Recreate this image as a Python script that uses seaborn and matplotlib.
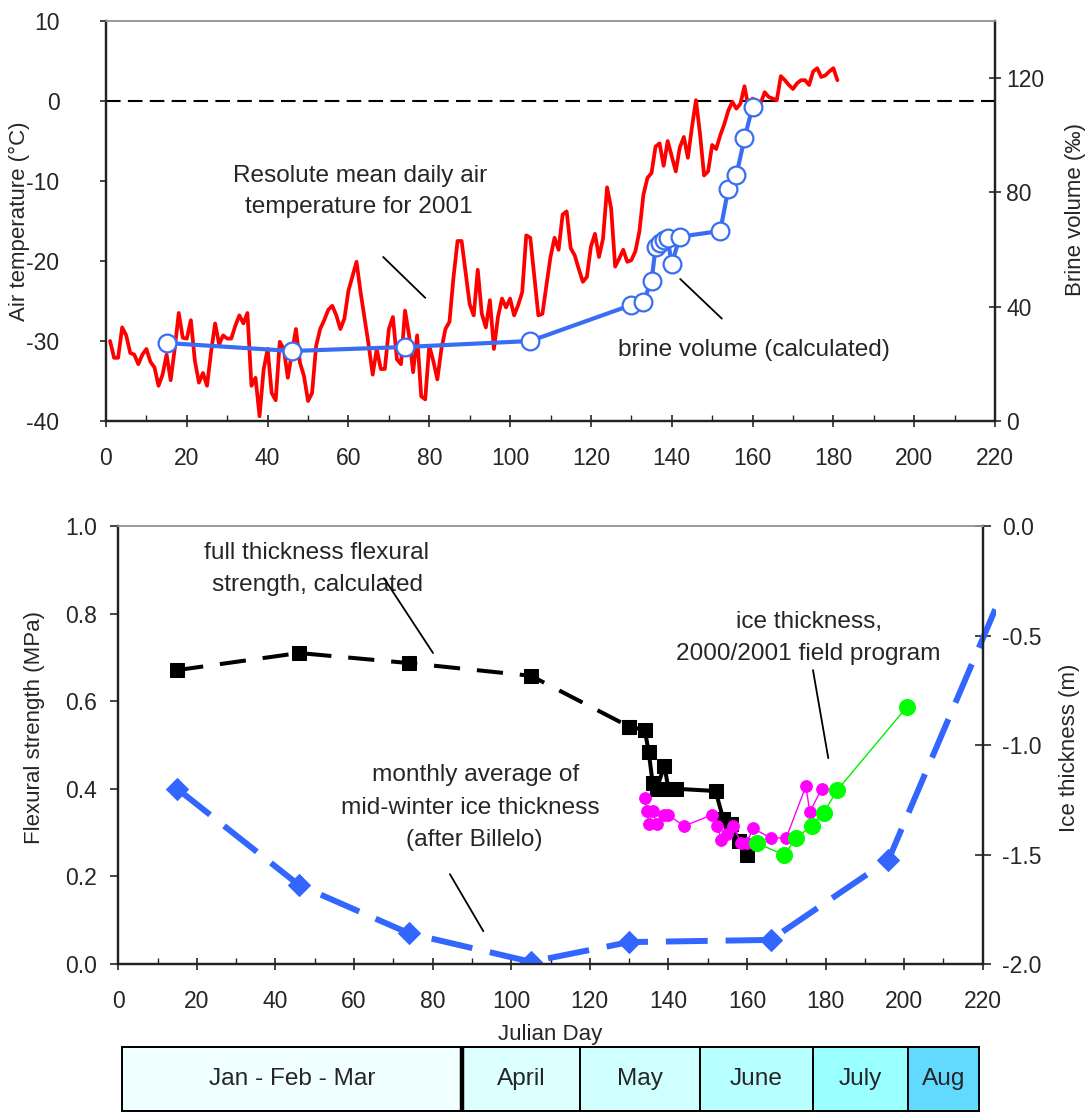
import matplotlib
matplotlib.use("Agg")
import matplotlib.pyplot as plt
import seaborn as sns
import numpy as np
import pandas as pd
from matplotlib.patches import Rectangle
from matplotlib.ticker import MultipleLocator, FormatStrFormatter

# ---------------- data ----------------
temp_day = list(range(1, 182))
temp_c = [
    -30.0, -32.1, -32.1, -28.3, -29.3, -31.5, -31.7, -32.9, -31.7, -31.0,
    -32.6, -33.3, -35.6, -34.2, -31.7, -34.9, -31.0, -26.5, -29.6, -29.7,
    -27.4, -32.5, -35.2, -34.0, -35.6, -31.4, -27.8, -30.4, -29.3, -29.7,
    -29.7, -28.1, -26.8, -27.8, -26.5, -35.6, -34.6, -39.4, -33.6, -31.0,
    -36.5, -37.4, -30.1, -31.0, -34.6, -31.5, -28.5, -32.7, -34.4, -37.5,
    -36.5, -30.6, -28.5, -27.4, -26.1, -25.6, -26.8, -28.5, -27.2, -23.7,
    -21.9, -20.1, -23.9, -27.2, -30.5, -34.2, -31.0, -33.5, -33.5, -28.5,
    -27.0, -32.3, -32.9, -26.2, -29.3, -33.9, -29.3, -36.9, -37.3, -30.6,
    -32.5, -34.8, -31.0, -28.5, -27.6, -22.0, -17.5, -17.5, -21.4, -25.4,
    -26.8, -21.1, -26.6, -28.3, -24.9, -31.0, -27.0, -24.7, -25.8, -24.7,
    -26.8, -25.5, -23.9, -16.8, -17.1, -22.0, -26.8, -26.6, -23.0, -19.5,
    -17.1, -18.6, -14.2, -13.8, -18.4, -19.3, -21.0, -22.6, -22.0, -18.2,
    -16.6, -19.5, -17.2, -10.8, -13.4, -20.7, -19.7, -18.6, -20.1, -19.9,
    -18.8, -16.3, -11.7, -9.6, -9.0, -5.7, -5.3, -8.1, -5.0, -6.9,
    -8.8, -5.8, -4.5, -7.1, -3.3, 0.1, -4.1, -9.3, -8.8, -5.5,
    -6.0, -4.3, -2.9, -1.2, -0.1, -0.96, -0.34, 1.85, -0.8, 0.3,
    -0.1, -0.3, 1.1, 0.5, 0.3, 0.1, 3.1, 2.6, 2.0, 1.5,
    2.2, 2.6, 2.6, 2.0, 3.7, 4.1, 3.0, 3.2, 3.7, 4.1,
    2.6,
]

brine_day = [15, 46, 74, 105, 130, 133, 135, 136, 137, 138, 139, 140, 142,
             152, 154, 156, 158, 160]
brine_vol = [27.3, 24.5, 25.9, 28.0, 40.6, 41.8, 49.0, 60.8, 62.4, 63.3,
             63.9, 54.9, 64.5, 66.5, 81.2, 86.1, 98.9, 110.0]

flex_calc_day = [15, 46, 74, 105, 130]
flex_calc_mpa = [0.671, 0.710, 0.687, 0.658, 0.542]
flex_field_day = [130, 134, 135, 136, 137, 139, 140, 142, 152, 154, 156, 158, 160]
flex_field_mpa = [0.542, 0.534, 0.484, 0.413, 0.400, 0.453, 0.400, 0.400,
                  0.395, 0.330, 0.320, 0.280, 0.250]

billelo_day = [15, 46, 74, 105, 130, 166, 196, 227]
billelo_thk = [-1.20, -1.64, -1.86, -1.99, -1.90, -1.89, -1.525, -0.22]

mag_day = [134, 134.5, 135, 136, 137, 139, 140, 144, 151, 152.5, 153.5, 155,
           156.5, 158.5, 160, 161.5, 166, 170, 175, 176, 179]
mag_thk = [-1.244, -1.30, -1.36, -1.30, -1.36, -1.32, -1.32, -1.37, -1.32,
           -1.37, -1.434, -1.406, -1.37, -1.448, -1.448, -1.38, -1.424,
           -1.424, -1.188, -1.306, -1.20]

green_day = [162.5, 169.5, 172.5, 176.5, 179.5, 183, 200.7]
green_thk = [-1.448, -1.502, -1.424, -1.37, -1.31, -1.206, -0.826]

month_labels = ["Jan - Feb - Mar", "April", "May", "June", "July", "Aug"]
month_colors = ["#F0FFFF", "#DCFFFF", "#CFFFFF", "#B8FFFF", "#99FFFF", "#62DAFF"]

# ---------------- style ----------------
sns.set_style("white")
plt.rcParams["font.family"] = ["Liberation Sans", "DejaVu Sans"]
plt.rcParams["axes.unicode_minus"] = False
FS_TICK = 16.5
FS_LAB = 16
FS_ANN = 17.6

W, H = 1091, 1112
fig = plt.figure(figsize=(W / 100, H / 100), dpi=100)

BLUE_TOP = "#3A6EF2"
BLUE_BOT = "#3366FF"


def style_axes(ax, ax2):
    for a in (ax, ax2):
        for sp in ["left", "bottom", "right"]:
            a.spines[sp].set_color("#222222")
            a.spines[sp].set_linewidth(1.6)
        a.spines["top"].set_color("#9a9a9a")
        a.spines["top"].set_linewidth(1.2)
        a.grid(False)
    ax.xaxis.set_major_locator(MultipleLocator(20))
    ax.xaxis.set_minor_locator(MultipleLocator(10))
    ax.tick_params(axis="x", which="major", direction="inout", length=9,
                   width=1.2, pad=14, labelsize=FS_TICK, bottom=True, top=False)
    ax.tick_params(axis="x", which="minor", direction="in", length=4.5,
                   width=1.0, bottom=True, top=False)


def leader(ax, p_from, p_to):
    ax.annotate("", xy=p_to, xytext=p_from,
                arrowprops=dict(arrowstyle="-", color="black", lw=1.3,
                                shrinkA=0, shrinkB=0))


# ================= TOP PANEL =================
ax_t = fig.add_axes([106 / W, 1 - 421 / H, 889 / W, 400 / H])
ax_t2 = ax_t.twinx()
style_axes(ax_t, ax_t2)

ax_t.axhline(0, color="black", lw=1.5, dashes=(7, 3.5), zorder=1)
sns.lineplot(x=temp_day, y=temp_c, ax=ax_t, color="#FF0000", lw=2.7,
             estimator=None, sort=False, zorder=3)

sns.lineplot(x=brine_day, y=brine_vol, ax=ax_t2, color=BLUE_TOP, lw=3.0,
             estimator=None, sort=False, marker="o", markersize=12.8,
             markerfacecolor="white", markeredgecolor=BLUE_TOP,
             markeredgewidth=1.6)

ax_t.set_xlim(0, 220)
ax_t.set_ylim(-40, 10)
ax_t.yaxis.set_major_locator(MultipleLocator(10))
ax_t.tick_params(axis="y", direction="out", length=4.5, width=1.2, pad=29,
                 labelsize=FS_TICK, left=True, right=False)
ax_t2.set_ylim(0, 140)
ax_t2.set_yticks([0, 40, 80, 120])
ax_t2.tick_params(axis="y", direction="inout", length=8, width=1.2, pad=4,
                  labelsize=FS_TICK, right=True)
ax_t.set_xlabel("")
ax_t.set_ylabel("Air temperature (°C)", fontsize=FS_LAB)
ax_t.yaxis.set_label_coords(-0.086, 0.5)
ax_t2.set_ylabel("Brine volume (‰)", fontsize=FS_LAB, rotation=90)
ax_t2.yaxis.set_label_coords(1.0787, 0.53)

ax_t.text(63.0, -9.4, "Resolute mean daily air", fontsize=FS_ANN, ha="center", va="center")
ax_t.text(62.5, -13.25, "temperature for 2001", fontsize=FS_ANN, ha="center", va="center")
leader(ax_t, (68.6, -19.5), (79.0, -24.6))
ax_t.text(160.4, -31.1, "brine volume (calculated)", fontsize=FS_ANN, ha="center", va="center")
leader(ax_t, (142.1, -22.25), (152.4, -27.2))

# ================= BOTTOM PANEL =================
ax_b = fig.add_axes([118.3 / W, 1 - 964 / H, 864.4 / W, 438 / H])
ax_b2 = ax_b.twinx()
style_axes(ax_b, ax_b2)

sns.lineplot(x=flex_calc_day, y=flex_calc_mpa, ax=ax_b, color="black", lw=2.9,
             estimator=None, sort=False, marker="s", markersize=10.5,
             markerfacecolor="black", markeredgecolor="black")
ax_b.lines[-1].set_dashes((6.5, 4.2))
sns.lineplot(x=flex_field_day, y=flex_field_mpa, ax=ax_b, color="black", lw=2.9,
             estimator=None, sort=False, marker="s", markersize=10.5,
             markerfacecolor="black", markeredgecolor="black")

sns.lineplot(x=mag_day, y=mag_thk, ax=ax_b2, color="#FF00FF", lw=1.0,
             estimator=None, sort=False, marker="o", markersize=8.4,
             markerfacecolor="#FF00FF", markeredgecolor="#FF00FF")
sns.lineplot(x=green_day, y=green_thk, ax=ax_b2, color="#00EE00", lw=1.0,
             estimator=None, sort=False, marker="o", markersize=11.5,
             markerfacecolor="#00FF00", markeredgecolor="#00FF00")

sns.lineplot(x=billelo_day, y=billelo_thk, ax=ax_b2, color=BLUE_BOT, lw=4.3,
             estimator=None, sort=False, marker="D", markersize=11,
             markerfacecolor=BLUE_BOT, markeredgecolor=BLUE_BOT,
             markevery=list(range(len(billelo_day) - 1)))
bl = ax_b2.lines[-1]
bl.set_dashes((7, 3))
clip_rect = Rectangle((118.3 / W, 1 - 964 / H), (996 - 118.3) / W, 470 / H,
                      transform=fig.transFigure, visible=False)
bl.set_clip_path(clip_rect)

ax_b.set_xlim(0, 220)
ax_b.set_ylim(0, 1.0)
ax_b.yaxis.set_major_locator(MultipleLocator(0.2))
ax_b.yaxis.set_major_formatter(FormatStrFormatter("%.1f"))
ax_b.tick_params(axis="y", direction="out", length=5.8, width=1.2, pad=9.4,
                 labelsize=FS_TICK, left=True, right=False)
ax_b2.set_ylim(-2.0, 0.0)
ax_b2.yaxis.set_major_locator(MultipleLocator(0.5))
ax_b2.yaxis.set_major_formatter(FormatStrFormatter("%.1f"))
ax_b2.tick_params(axis="y", direction="inout", length=12, width=1.2, pad=8,
                  labelsize=FS_TICK, right=True)
ax_b.set_xlabel("Julian Day", fontsize=FS_LAB, labelpad=8)
ax_b.set_ylabel("Flexural strength (MPa)", fontsize=FS_LAB)
ax_b.yaxis.set_label_coords(-0.085, 0.54)
ax_b2.set_ylabel("Ice thickness (m)", fontsize=FS_LAB, rotation=90)
ax_b2.yaxis.set_label_coords(1.088, 0.493)

ax_b.text(50.4, 0.938, "full thickness flexural", fontsize=FS_ANN, ha="center", va="center")
ax_b.text(50.8, 0.865, "strength, calculated", fontsize=FS_ANN, ha="center", va="center")
leader(ax_b, (67.6, 0.881), (80.1, 0.710))
ax_b.text(175.8, 0.781, "ice thickness,", fontsize=FS_ANN, ha="center", va="center")
ax_b.text(175.6, 0.708, "2000/2001 field program", fontsize=FS_ANN, ha="center", va="center")
leader(ax_b, (176.8, 0.671), (180.7, 0.470))
ax_b.text(91.0, 0.432, "monthly average of", fontsize=FS_ANN, ha="center", va="center")
ax_b.text(89.6, 0.356, "mid-winter ice thickness", fontsize=FS_ANN, ha="center", va="center")
ax_b.text(90.5, 0.283, "(after Billelo)", fontsize=FS_ANN, ha="center", va="center")
leader(ax_b, (84.4, 0.205), (92.9, 0.075))

# ================= MONTH BAR =================
ax_m = fig.add_axes([122 / W, 1 / H, (979 - 122) / W, (1111 - 1047) / H])
month_edges = [0.0, 0.3967, 0.5344, 0.6744, 0.8059, 0.9171, 1.0]
for i, (lab, col) in enumerate(zip(month_labels, month_colors)):
    x0, x1 = month_edges[i], month_edges[i + 1]
    ax_m.add_patch(Rectangle((x0, 0), x1 - x0, 1, facecolor=col,
                             edgecolor="black", lw=1.4))
    ax_m.text((x0 + x1) / 2, 0.5, lab, fontsize=FS_ANN, ha="center", va="center")
ax_m.axvline(month_edges[1], color="black", lw=3.2)
ax_m.set_xlim(0, 1)
ax_m.set_ylim(0, 1)
ax_m.set_xticks([])
ax_m.set_yticks([])
for sp in ax_m.spines.values():
    sp.set_color("black")
    sp.set_linewidth(1.4)

fig.savefig("out.png", dpi=100, facecolor="white")
